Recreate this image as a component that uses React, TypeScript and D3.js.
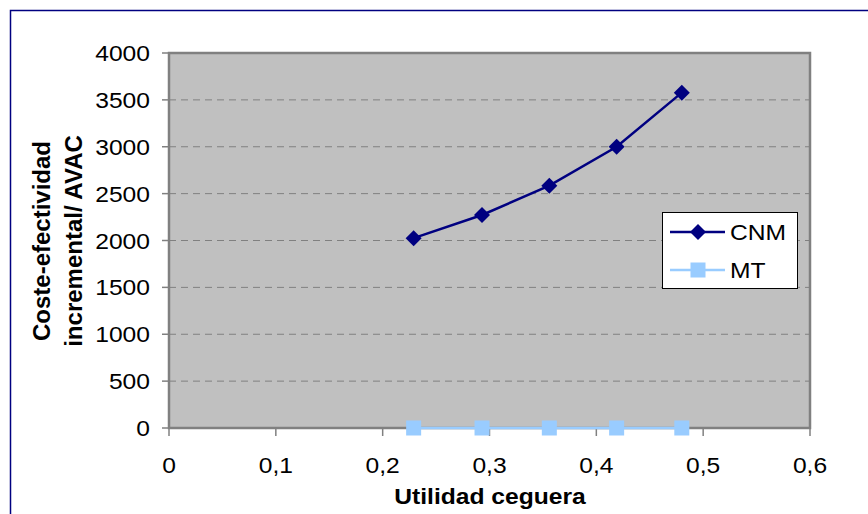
import * as d3 from 'd3';

// values
const utilidad = [0.229, 0.293, 0.356, 0.419, 0.48];
const cnmValues = [2025, 2272, 2585, 3000, 3577];
const mtValues = [0, 0, 0, 0, 0];
const yTicks = [0, 500, 1000, 1500, 2000, 2500, 3000, 3500, 4000];
const xTicks = [0, 0.1, 0.2, 0.3, 0.4, 0.5, 0.6];
const seriesNames = ['CNM', 'MT'];

const W = 868;
const H = 514;
const plot = { left: 169, right: 810, top: 53, bottom: 428 };
const FONT = '"Liberation Sans", Arial, sans-serif';
const SX = 1.12; // the original is a bit wider than tall

function SText({ x, y, anchor = 'start', size = 22, bold = false, children }: any) {
    return (
        <g transform={`translate(${x},${y}) scale(${SX},1)`}>
            <text textAnchor={anchor} fontSize={size} fontWeight={bold ? 'bold' : 'normal'} fontFamily={FONT} fill="#000">
                {children}
            </text>
        </g>
    );
}

function Diamond({ x, y, s = 8 }: { x: number; y: number; s?: number }) {
    return <path d={`M${x},${y - s}L${x + s},${y}L${x},${y + s}L${x - s},${y}Z`} fill="#000080" />;
}

function Square({ x, y, s = 7.5 }: { x: number; y: number; s?: number }) {
    return <rect x={x - s} y={y - s} width={s * 2} height={s * 2} fill="#99CCFF" />;
}

export default function App() {
    const x = d3.scaleLinear().domain([0, 0.6]).range([plot.left, plot.right]);
    const y = d3.scaleLinear().domain([0, 4000]).range([plot.bottom, plot.top]);
    const line = d3.line<number>().x((_, i) => x(utilidad[i])).y(d => y(d));
    const fmtX = (v: number) => (v === 0 ? '0' : d3.format('.1f')(v).replace('.', ','));

    const legend = { x: 662, y: 212, w: 135, h: 76 };
    const legendRows = [legend.y + 20, legend.y + 58];

    return (
        <svg width={W} height={H} style={{ position: 'absolute', left: 0, top: 0, background: '#fff' }}>
            {/* outer chart border, runs off the right and bottom */}
            <rect x={10.5} y={10.5} width={W + 10} height={H + 10} fill="#fff" stroke="#000080" strokeWidth={1.5} />

            {/* plot area */}
            <rect x={plot.left} y={plot.top} width={plot.right - plot.left} height={plot.bottom - plot.top} fill="#C0C0C0" />

            {/* grid */}
            {yTicks.filter(t => t > 0 && t < 4000).map(t => (
                <line key={t} x1={plot.left} x2={plot.right} y1={y(t)} y2={y(t)} stroke="#808080" strokeWidth={1} strokeDasharray="7,5" />
            ))}

            <rect x={plot.left} y={plot.top} width={plot.right - plot.left} height={plot.bottom - plot.top} fill="none" stroke="#808080" strokeWidth={2.5} />

            {/* y axis */}
            {yTicks.map(t => (
                <g key={t}>
                    <line x1={162} x2={plot.left} y1={y(t)} y2={y(t)} stroke="#808080" strokeWidth={1.5} />
                    <SText x={150} y={y(t) + 8} anchor="end">{t}</SText>
                </g>
            ))}

            {/* x axis */}
            {xTicks.map(t => (
                <g key={t}>
                    <line x1={x(t)} x2={x(t)} y1={plot.bottom} y2={plot.bottom + 8} stroke="#808080" strokeWidth={1.5} />
                    <SText x={x(t)} y={473} anchor="middle">{fmtX(t)}</SText>
                </g>
            ))}

            {/* series */}
            <path d={line(mtValues) || ''} fill="none" stroke="#99CCFF" strokeWidth={2.5} />
            {mtValues.map((v, i) => <Square key={i} x={x(utilidad[i])} y={y(v)} />)}
            <path d={line(cnmValues) || ''} fill="none" stroke="#000080" strokeWidth={2.5} />
            {cnmValues.map((v, i) => <Diamond key={i} x={x(utilidad[i])} y={y(v)} />)}

            {/* axis titles */}
            <SText x={490} y={504} anchor="middle" bold>Utilidad ceguera</SText>
            <g transform="translate(50,241) rotate(-90)">
                <text textAnchor="middle" fontSize={24} fontWeight="bold" fontFamily={FONT}>Coste-efectividad</text>
            </g>
            <g transform="translate(82,241) rotate(-90)">
                <text textAnchor="middle" fontSize={24} fontWeight="bold" fontFamily={FONT}>incremental/ AVAC</text>
            </g>

            {/* legend */}
            <rect x={legend.x + 0.5} y={legend.y + 0.5} width={legend.w} height={legend.h} fill="#fff" stroke="#000" strokeWidth={1} />
            <line x1={670} x2={725} y1={legendRows[0]} y2={legendRows[0]} stroke="#000080" strokeWidth={2.5} />
            <Diamond x={698} y={legendRows[0]} />
            <SText x={730} y={legendRows[0] + 8}>{seriesNames[0]}</SText>
            <line x1={670} x2={725} y1={legendRows[1]} y2={legendRows[1]} stroke="#99CCFF" strokeWidth={2.5} />
            <Square x={698} y={legendRows[1]} />
            <SText x={730} y={legendRows[1] + 8}>{seriesNames[1]}</SText>
        </svg>
    );
}
